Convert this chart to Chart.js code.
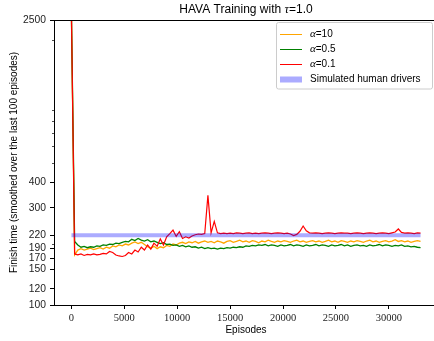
<!DOCTYPE html>
<html>
<head>
<meta charset="utf-8">
<script src="https://cdn.jsdelivr.net/npm/chart.js@4"></script>
<style>
html, body { margin: 0; padding: 0; background: #fff; overflow: hidden; }
#wrap { width: 438px; height: 341px; }
</style>
</head>
<body>
<div id="wrap"><canvas id="chart" width="438" height="341"></canvas></div>
<script>
// one value every STEP episodes, starting at episode 0
const STEP = 300;

const ALPHA_10 = [
    2600, 176, 186, 189, 186, 188, 190, 187, 189, 191,
    188, 192, 190, 195, 193, 197, 195, 199, 197, 201,
    204, 200, 203, 198, 193, 190, 194, 189, 193, 191,
    196, 194, 199, 197, 201, 203, 200, 204, 202, 205,
    201, 204, 206, 203, 205, 202, 206, 204, 201, 205,
    207, 203, 205, 208, 204, 206, 203, 207, 205, 202,
    206, 204, 208, 205, 203, 206, 204, 207, 205, 203,
    206, 208, 204, 206, 203, 205, 207, 204, 206, 203,
    205, 208, 204, 206, 203, 207, 205, 203, 206, 204,
    207, 205, 203, 206, 208, 204, 206, 203, 205, 207,
    204, 206, 209, 205, 207, 204, 206, 203, 205, 207,
    205
];

const ALPHA_05 = [
    2600, 205, 197, 192, 194, 191, 193, 192, 195, 194,
    197, 196, 199, 198, 201, 200, 203, 205, 204, 210,
    207, 212, 208, 206, 209, 204, 206, 203, 200, 202,
    198, 199, 196, 197, 194, 196, 193, 195, 192, 193,
    190, 192, 189, 191, 189, 190, 188, 190, 189, 191,
    190, 192, 191, 193, 192, 195, 194, 196, 195, 197,
    196, 198, 195, 197, 196, 194, 197, 195, 196, 198,
    195, 197, 196, 194, 197, 195, 196, 198, 195, 197,
    196, 194, 197, 195, 196, 198, 195, 197, 194, 196,
    197, 195, 196, 194, 197, 195, 196, 198, 195, 197,
    196, 194, 196, 195, 197, 194, 195, 193, 194, 192,
    191
];

const ALPHA_01 = [
    2600, 178, 176, 178, 175, 177, 176, 178, 176, 177,
    179, 178, 183, 181, 176, 174, 173, 175, 181, 178,
    186, 182, 192, 186, 197, 188, 201, 194, 211, 197,
    216, 224, 233, 217, 229, 212, 216, 213, 218, 221,
    223, 222, 224, 345, 226, 257, 226, 224, 225, 224,
    225, 224, 226, 225, 224, 225, 226, 224, 225, 224,
    225, 226, 225, 224, 225, 226, 225, 224, 225, 223,
    219, 222, 230, 244, 231, 226, 225, 226, 225, 224,
    225, 226, 225, 224, 225, 226, 225, 225, 224, 225,
    226, 225, 224, 225, 226, 225, 224, 225, 226, 225,
    224, 226, 228, 236, 227, 225, 226, 225, 224, 226,
    225
];

const HUMAN_TIME = 220;
const HUMAN_EPISODES = [0, 33000];

const LABELS = ['=10', '=0.5', '=0.1', 'Simulated human drivers'];
const COLORS = ['#ffa500', '#008000', '#ff0000', 'rgba(0, 0, 255, 0.33)'];

const X_TICKS = [0, 5000, 10000, 15000, 20000, 25000, 30000];
const Y_TICKS = [100, 120, 150, 170, 190, 220, 300, 400, 2500];
const Y_MINOR = [200, 500, 600, 700, 800, 900, 2000];

const SANS = 'Liberation Sans';
const SERIF = 'Liberation Serif';

function toPoints(values) {
    return values.map((v, i) => ({ x: i * STEP, y: v }));
}

// title, top spine, minor ticks and legend
const decorations = {
    id: 'decorations',
    afterDraw(chart) {
        const ctx = chart.ctx;
        const area = chart.chartArea;
        ctx.save();

        // top spine
        ctx.strokeStyle = '#000';
        ctx.lineWidth = 1;
        ctx.beginPath();
        ctx.moveTo(area.left, Math.round(area.top) + 0.5);
        ctx.lineTo(area.right, Math.round(area.top) + 0.5);
        ctx.stroke();

        // minor ticks on the log axis
        const y = chart.scales.y;
        ctx.lineWidth = 0.7;
        Y_MINOR.forEach(v => {
            const py = Math.round(y.getPixelForValue(v)) + 0.5;
            ctx.beginPath();
            ctx.moveTo(area.left - 2, py);
            ctx.lineTo(area.left, py);
            ctx.stroke();
        });

        // title with a math tau
        ctx.fillStyle = '#000';
        ctx.textBaseline = 'middle';
        const sans = '12px "' + SANS + '"';
        const tau = 'italic 12.5px "' + SERIF + '"';
        const parts = [['HAVA Training with ', sans], ['\u03c4', tau], ['=1.0', sans]];
        let w = 0;
        parts.forEach(p => { ctx.font = p[1]; w += ctx.measureText(p[0]).width; });
        let tx = (area.left + area.right) / 2 - w / 2;
        parts.forEach(p => {
            ctx.font = p[1];
            ctx.fillText(p[0], tx, 10);
            tx += ctx.measureText(p[0]).width;
        });

        // legend
        ctx.fillStyle = 'rgba(255, 255, 255, 0.8)';
        ctx.strokeStyle = '#cccccc';
        ctx.lineWidth = 1;
        ctx.beginPath();
        ctx.roundRect(276.5, 22.5, 156, 66.5, 2);
        ctx.fill();
        ctx.stroke();

        const rows = [34, 49, 64, 79];
        LABELS.forEach((label, i) => {
            const ry = rows[i];
            if (i < 3) {
                ctx.strokeStyle = COLORS[i];
                ctx.lineWidth = 1;
                ctx.beginPath();
                ctx.moveTo(280, ry + 0.5);
                ctx.lineTo(302, ry + 0.5);
                ctx.stroke();
                ctx.fillStyle = '#000';
                ctx.font = 'italic 11px "' + SERIF + '"';
                ctx.fillText('\u03b1', 310, ry);
                const aw = ctx.measureText('\u03b1').width;
                ctx.font = '10px "' + SANS + '"';
                ctx.fillText(label, 310 + aw, ry);
            } else {
                ctx.fillStyle = COLORS[i];
                ctx.fillRect(280, ry - 2.5, 22, 6);
                ctx.fillStyle = '#000';
                ctx.font = '10px "' + SANS + '"';
                ctx.fillText(label, 310, ry);
            }
        });

        ctx.restore();
    }
};

const chart = new Chart(document.getElementById('chart'), {
    type: 'line',
    data: {
        datasets: [
            { label: LABELS[0], data: toPoints(ALPHA_10), borderColor: COLORS[0], borderWidth: 1.3, order: 4 },
            { label: LABELS[1], data: toPoints(ALPHA_05), borderColor: COLORS[1], borderWidth: 1.3, order: 3 },
            { label: LABELS[2], data: toPoints(ALPHA_01), borderColor: COLORS[2], borderWidth: 1.2, order: 2 },
            {
                label: LABELS[3],
                data: HUMAN_EPISODES.map(x => ({ x: x, y: HUMAN_TIME })),
                borderColor: COLORS[3],
                borderWidth: 4,
                borderCapStyle: 'butt',
                order: 1
            }
        ]
    },
    options: {
        responsive: false,
        animation: false,
        layout: { padding: { top: 20, right: 0, left: 0, bottom: 0 } },
        elements: { point: { radius: 0 }, line: { tension: 0 } },
        plugins: {
            legend: { display: false },
            title: { display: false },
            tooltip: { enabled: false }
        },
        scales: {
            x: {
                type: 'linear',
                min: -1650,
                max: 34650,
                afterBuildTicks: s => { s.ticks = X_TICKS.map(v => ({ value: v })); },
                afterFit: s => { s.height = 36; },
                grid: { drawOnChartArea: false, tickLength: 4, tickColor: '#000' },
                border: { color: '#000', width: 1 },
                ticks: {
                    color: '#222',
                    padding: 3,
                    maxRotation: 0,
                    autoSkip: false,
                    font: { family: SERIF, size: 10.5 },
                    callback: v => String(v)
                },
                title: {
                    display: true,
                    text: 'Episodes',
                    color: '#000',
                    font: { family: SANS, size: 10 },
                    padding: { top: 0, bottom: 5 }
                }
            },
            y: {
                type: 'logarithmic',
                min: 100,
                max: 2500,
                afterBuildTicks: s => { s.ticks = Y_TICKS.map(v => ({ value: v })); },
                afterFit: s => { s.width = 54; },
                grid: { drawOnChartArea: false, tickLength: 4, tickColor: '#000' },
                border: { color: '#000', width: 1 },
                ticks: {
                    color: '#222',
                    padding: 4,
                    autoSkip: false,
                    font: { family: SANS, size: 10.3 },
                    callback: v => String(v)
                },
                title: {
                    display: true,
                    text: 'Finish time (smoothed over the last 100 episodes)',
                    color: '#000',
                    font: { family: SANS, size: 10 },
                    padding: { top: 8, bottom: 0 }
                }
            }
        }
    },
    plugins: [decorations]
});
</script>
</body>
</html>
